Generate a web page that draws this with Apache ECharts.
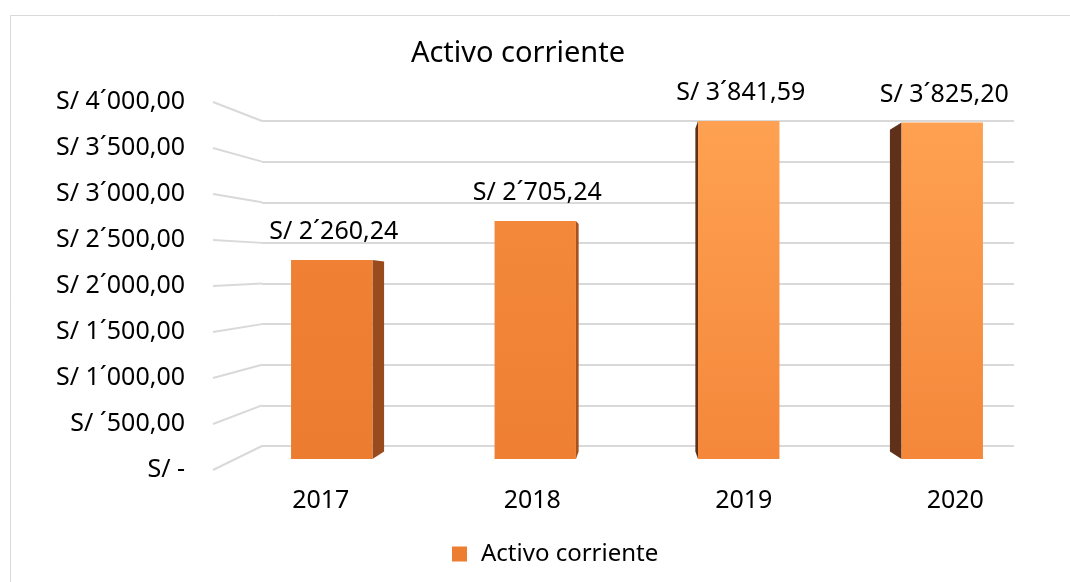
<!DOCTYPE html>
<html><head><meta charset="utf-8">
<script src="https://cdn.jsdelivr.net/npm/echarts@6/dist/echarts.min.js"></script>
<style>html,body{margin:0;padding:0;background:#fff}#c{width:1070px;height:582px}</style>
</head><body><div id="c"></div>
<script>
const categories = ['2017', '2018', '2019', '2020'];
const values = [2260.24, 2705.24, 3841.59, 3825.20];
const seriesName = 'Activo corriente';
const titleText = 'Activo corriente';
const yTicks = [0, 500, 1000, 1500, 2000, 2500, 3000, 3500, 4000];

const FONT = 'Noto Sans';
const FS = 25;
const frontTop = ['#EF8034', '#F3883A', '#FFA152', '#FFA152'];
const frontBot = ['#EC7C30', '#EE7F33', '#F4873A', '#F4873A'];
const sideCol = ['#9A4B1E', '#A5521F', '#5E3016', '#60311A'];

function fmtNum(v) {
  const th = Math.floor(v / 1000);
  const rest = v - th * 1000;
  let ip = Math.floor(rest);
  let frac = Math.round((rest - ip) * 100);
  if (frac === 100) { frac = 0; ip += 1; }
  return 'S/ ' + (th > 0 ? th : '') + '\u00B4' + String(ip).padStart(3, '0') + ',' + String(frac).padStart(2, '0');
}
function fmtTick(v) { return v === 0 ? 'S/ -' : fmtNum(v); }

const chart = echarts.init(document.getElementById('c'));
const option = {
  backgroundColor: '#fff',
  animation: false,
  title: { text: titleText, left: 513, textAlign: 'center', top: 34,
    textStyle: { fontFamily: FONT, fontSize: 29, fontWeight: 'normal', color: '#000' } },
  legend: { left: 447, top: 537, itemWidth: 15, itemHeight: 15, icon: 'rect',
    data: [{ name: seriesName, itemStyle: { color: '#ED7D31' } }],
    textStyle: { fontFamily: FONT, fontSize: 24, color: '#000', padding: [0, 0, 0, 9] } },
  grid: [
    { left: 193, width: 20, top: 102, bottom: 112 },          // labels
    { left: 262, right: 56, top: 121, bottom: 136 },          // back wall
    { left: 230, right: 26, top: 107, bottom: 123 },          // bars
    { left: 215, right: 9, top: 400, bottom: 97 }             // x labels
  ],
  xAxis: [
    { gridIndex: 0, type: 'value', min: 0, max: 1, show: false },
    { gridIndex: 1, type: 'value', min: 0, max: 1, show: false },
    { gridIndex: 2, type: 'category', data: categories, show: false },
    { gridIndex: 3, type: 'category', data: categories, axisLine: { show: false }, axisTick: { show: false },
      axisLabel: { margin: 3, fontFamily: FONT, fontSize: FS, color: '#000' } }
  ],
  yAxis: [
    { gridIndex: 0, type: 'value', min: 0, max: 4000, interval: 500, splitLine: { show: false },
      axisLine: { show: false }, axisTick: { show: false },
      axisLabel: { margin: 8, formatter: fmtTick, fontFamily: FONT, fontSize: FS, color: '#000' } },
    { gridIndex: 1, type: 'value', min: 0, max: 4000, interval: 500, axisLabel: { show: false },
      axisLine: { show: false }, axisTick: { show: false },
      splitLine: { lineStyle: { color: '#D9D9D9', width: 2 } } },
    { gridIndex: 2, type: 'value', min: 0, max: 4000, show: false },
    { gridIndex: 3, type: 'value', show: false }
  ],
  series: [{
    name: seriesName,
    type: 'custom',
    xAxisIndex: 2, yAxisIndex: 2,
    itemStyle: { color: '#ED7D31' },
    data: values.map((v, i) => [i, v]),
    renderItem: function (params, api) {
      const i = params.dataIndex;
      const v = api.value(1);
      const top = api.coord([api.value(0), v]);
      const base = api.coord([api.value(0), 0]);
      const band = api.size([1, 0])[0];
      const w = band * 0.4;
      const x0 = top[0] - w / 2, x1 = top[0] + w / 2;
      const cs = params.coordSys;
      const vx = cs.x + cs.width / 2, vy = 290, t = 0.044;
      const ex = x1 < vx ? x1 : x0;
      const pts = [
        [ex, top[1]],
        [ex + t * (vx - ex), top[1] + t * (vy - top[1])],
        [ex + t * (vx - ex), base[1] + t * (vy - base[1])],
        [ex, base[1]]
      ];
      return {
        type: 'group',
        children: [
          { type: 'polygon', shape: { points: pts }, style: { fill: sideCol[i] } },
          { type: 'rect', shape: { x: x0, y: top[1], width: w, height: base[1] - top[1] },
            style: { fill: new echarts.graphic.LinearGradient(0, 0, 0, 1, [
              { offset: 0, color: frontTop[i] }, { offset: 1, color: frontBot[i] }]) } },
          { type: 'text', x: top[0] + 2, y: top[1] - 28,
            style: { text: fmtNum(v), fontFamily: FONT, fontSize: FS, fill: '#000',
              align: 'center', verticalAlign: 'middle' } }
        ]
      };
    }
  }]
};
chart.setOption(option);

const graphics = [{ type: 'rect', shape: { x: 10.5, y: 15.5, width: 1200, height: 700 },
  style: { fill: 'none', stroke: '#D9D9D9', lineWidth: 1 }, silent: true }];
yTicks.forEach(v => {
  const a = chart.convertToPixel({ gridIndex: 0 }, [1, v]);
  const b = chart.convertToPixel({ gridIndex: 1 }, [0, v]);
  graphics.push({ type: 'line', z: -1, shape: { x1: a[0], y1: a[1], x2: b[0], y2: b[1] },
    style: { stroke: '#D9D9D9', lineWidth: 2 } });
});
chart.setOption({ graphic: graphics });
</script></body></html>
